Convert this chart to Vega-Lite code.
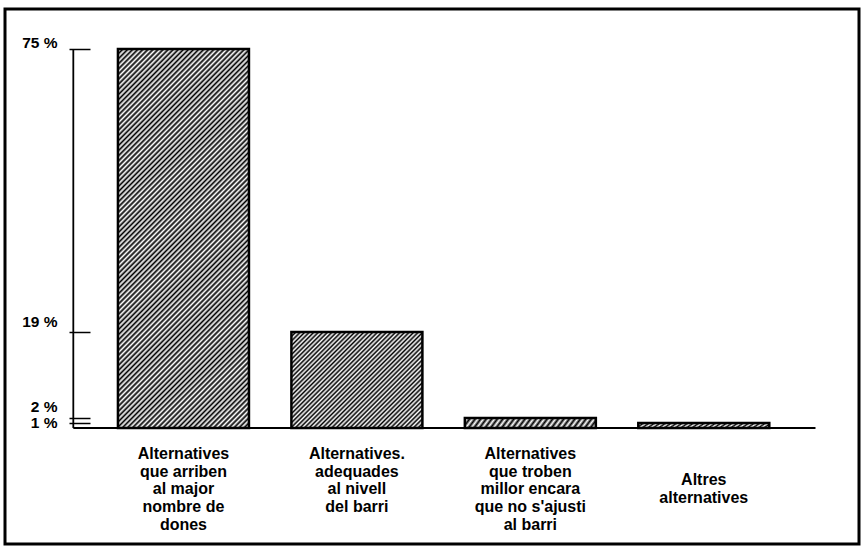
{
  "$schema": "https://vega.github.io/schema/vega-lite/v6.json",
  "width": 854,
  "height": 535,
  "autosize": "none",
  "padding": {"left": 5, "top": 9, "right": 3, "bottom": 5},
  "background": "white",
  "config": {"view": {"stroke": "black", "strokeWidth": 3}, "font": "Liberation Sans"},
  "data": {"values": [
    {"pos": 1, "value": 75, "label": "Alternatives\nque arriben\nal major\nnombre de\ndones"},
    {"pos": 2, "value": 19, "label": "Alternatives.\nadequades\nal nivell\ndel barri"},
    {"pos": 3, "value": 2, "label": "Alternatives\nque troben\nmillor encara\nque no s'ajusti\nal barri"},
    {"pos": 4, "value": 1, "label": "Altres\nalternatives"}
  ]},
  "layer": [
    {
      "data": {"values": [{"k": "axis"}]},
      "mark": {"type": "rule", "color": "black", "strokeWidth": 1.8},
      "encoding": {
        "x": {"datum": 0.365, "type": "quantitative", "scale": {"domain": [0, 4.866], "nice": false, "zero": false}, "axis": null},
        "y": {"datum": 0, "type": "quantitative", "scale": {"domain": [-22.955, 82.916], "nice": false, "zero": false}},
        "y2": {"datum": 75}
      }
    },
    {
      "data": {"values": [{"k": "base"}]},
      "mark": {"type": "rule", "color": "black", "strokeWidth": 1.8},
      "encoding": {
        "x": {"datum": 0.365, "type": "quantitative"},
        "x2": {"datum": 4.644},
        "y": {"datum": 0, "type": "quantitative"}
      }
    },
    {
      "mark": {"type": "bar", "orient": "vertical", "size": 131, "stroke": "black", "strokeWidth": 2.5},
      "encoding": {
        "x": {"field": "pos", "type": "quantitative"},
        "y": {"field": "value", "type": "quantitative",
          "axis": {"values": [1, 2, 19, 75], "domain": false, "grid": false, "title": null, "offset": -64,
            "tickSize": -21, "tickWidth": 1.5, "tickColor": "black", "labelPadding": 33,
            "labelExpr": "datum.value + ' %'", "labelFont": "Liberation Sans", "labelFontWeight": "bold", "labelFontSize": 15.5, "labelColor": "black",
            "labelBaseline": "alphabetic",
            "labelOffset": {"condition": [{"test": "datum.value == 1", "value": 5}, {"test": "datum.value == 2", "value": -6}, {"test": "datum.value == 75", "value": -2}], "value": -5},
            "labelOverlap": false, "labelFlush": false, "labelBound": false}},
        "y2": {"datum": 0},
        "fill": {
          "condition": [
            {"test": "datum.pos == 1", "value": {"gradient": "linear", "x1": 0, "y1": 0, "x2": 0.4188, "y2": 1.2024, "stops": [
{"offset":0,"color":"#000"},{"offset":0.005,"color":"#fff"},{"offset":0.01,"color":"#000"},{"offset":0.015,"color":"#fff"},{"offset":0.02,"color":"#000"},{"offset":0.025,"color":"#fff"},{"offset":0.03,"color":"#000"},{"offset":0.035,"color":"#fff"},{"offset":0.04,"color":"#000"},{"offset":0.045,"color":"#fff"},
{"offset":0.05,"color":"#000"},{"offset":0.055,"color":"#fff"},{"offset":0.06,"color":"#000"},{"offset":0.065,"color":"#fff"},{"offset":0.07,"color":"#000"},{"offset":0.075,"color":"#fff"},{"offset":0.08,"color":"#000"},{"offset":0.085,"color":"#fff"},{"offset":0.09,"color":"#000"},{"offset":0.095,"color":"#fff"},
{"offset":0.1,"color":"#000"},{"offset":0.105,"color":"#fff"},{"offset":0.11,"color":"#000"},{"offset":0.115,"color":"#fff"},{"offset":0.12,"color":"#000"},{"offset":0.125,"color":"#fff"},{"offset":0.13,"color":"#000"},{"offset":0.135,"color":"#fff"},{"offset":0.14,"color":"#000"},{"offset":0.145,"color":"#fff"},
{"offset":0.15,"color":"#000"},{"offset":0.155,"color":"#fff"},{"offset":0.16,"color":"#000"},{"offset":0.165,"color":"#fff"},{"offset":0.17,"color":"#000"},{"offset":0.175,"color":"#fff"},{"offset":0.18,"color":"#000"},{"offset":0.185,"color":"#fff"},{"offset":0.19,"color":"#000"},{"offset":0.195,"color":"#fff"},
{"offset":0.2,"color":"#000"},{"offset":0.205,"color":"#fff"},{"offset":0.21,"color":"#000"},{"offset":0.215,"color":"#fff"},{"offset":0.22,"color":"#000"},{"offset":0.225,"color":"#fff"},{"offset":0.23,"color":"#000"},{"offset":0.235,"color":"#fff"},{"offset":0.24,"color":"#000"},{"offset":0.245,"color":"#fff"},
{"offset":0.25,"color":"#000"},{"offset":0.255,"color":"#fff"},{"offset":0.26,"color":"#000"},{"offset":0.265,"color":"#fff"},{"offset":0.27,"color":"#000"},{"offset":0.275,"color":"#fff"},{"offset":0.28,"color":"#000"},{"offset":0.285,"color":"#fff"},{"offset":0.29,"color":"#000"},{"offset":0.295,"color":"#fff"},
{"offset":0.3,"color":"#000"},{"offset":0.305,"color":"#fff"},{"offset":0.31,"color":"#000"},{"offset":0.315,"color":"#fff"},{"offset":0.32,"color":"#000"},{"offset":0.325,"color":"#fff"},{"offset":0.33,"color":"#000"},{"offset":0.335,"color":"#fff"},{"offset":0.34,"color":"#000"},{"offset":0.345,"color":"#fff"},
{"offset":0.35,"color":"#000"},{"offset":0.355,"color":"#fff"},{"offset":0.36,"color":"#000"},{"offset":0.365,"color":"#fff"},{"offset":0.37,"color":"#000"},{"offset":0.375,"color":"#fff"},{"offset":0.38,"color":"#000"},{"offset":0.385,"color":"#fff"},{"offset":0.39,"color":"#000"},{"offset":0.395,"color":"#fff"},
{"offset":0.4,"color":"#000"},{"offset":0.405,"color":"#fff"},{"offset":0.41,"color":"#000"},{"offset":0.415,"color":"#fff"},{"offset":0.42,"color":"#000"},{"offset":0.425,"color":"#fff"},{"offset":0.43,"color":"#000"},{"offset":0.435,"color":"#fff"},{"offset":0.44,"color":"#000"},{"offset":0.445,"color":"#fff"},
{"offset":0.45,"color":"#000"},{"offset":0.455,"color":"#fff"},{"offset":0.46,"color":"#000"},{"offset":0.465,"color":"#fff"},{"offset":0.47,"color":"#000"},{"offset":0.475,"color":"#fff"},{"offset":0.48,"color":"#000"},{"offset":0.485,"color":"#fff"},{"offset":0.49,"color":"#000"},{"offset":0.495,"color":"#fff"},
{"offset":0.5,"color":"#000"},{"offset":0.505,"color":"#fff"},{"offset":0.51,"color":"#000"},{"offset":0.515,"color":"#fff"},{"offset":0.52,"color":"#000"},{"offset":0.525,"color":"#fff"},{"offset":0.53,"color":"#000"},{"offset":0.535,"color":"#fff"},{"offset":0.54,"color":"#000"},{"offset":0.545,"color":"#fff"},
{"offset":0.55,"color":"#000"},{"offset":0.555,"color":"#fff"},{"offset":0.56,"color":"#000"},{"offset":0.565,"color":"#fff"},{"offset":0.57,"color":"#000"},{"offset":0.575,"color":"#fff"},{"offset":0.58,"color":"#000"},{"offset":0.585,"color":"#fff"},{"offset":0.59,"color":"#000"},{"offset":0.595,"color":"#fff"},
{"offset":0.6,"color":"#000"},{"offset":0.605,"color":"#fff"},{"offset":0.61,"color":"#000"},{"offset":0.615,"color":"#fff"},{"offset":0.62,"color":"#000"},{"offset":0.625,"color":"#fff"},{"offset":0.63,"color":"#000"},{"offset":0.635,"color":"#fff"},{"offset":0.64,"color":"#000"},{"offset":0.645,"color":"#fff"},
{"offset":0.65,"color":"#000"},{"offset":0.655,"color":"#fff"},{"offset":0.66,"color":"#000"},{"offset":0.665,"color":"#fff"},{"offset":0.67,"color":"#000"},{"offset":0.675,"color":"#fff"},{"offset":0.68,"color":"#000"},{"offset":0.685,"color":"#fff"},{"offset":0.69,"color":"#000"},{"offset":0.695,"color":"#fff"},
{"offset":0.7,"color":"#000"},{"offset":0.705,"color":"#fff"},{"offset":0.71,"color":"#000"},{"offset":0.715,"color":"#fff"},{"offset":0.72,"color":"#000"},{"offset":0.725,"color":"#fff"},{"offset":0.73,"color":"#000"},{"offset":0.735,"color":"#fff"},{"offset":0.74,"color":"#000"},{"offset":0.745,"color":"#fff"},
{"offset":0.75,"color":"#000"},{"offset":0.755,"color":"#fff"},{"offset":0.76,"color":"#000"},{"offset":0.765,"color":"#fff"},{"offset":0.77,"color":"#000"},{"offset":0.775,"color":"#fff"},{"offset":0.78,"color":"#000"},{"offset":0.785,"color":"#fff"},{"offset":0.79,"color":"#000"},{"offset":0.795,"color":"#fff"},
{"offset":0.8,"color":"#000"},{"offset":0.805,"color":"#fff"},{"offset":0.81,"color":"#000"},{"offset":0.815,"color":"#fff"},{"offset":0.82,"color":"#000"},{"offset":0.825,"color":"#fff"},{"offset":0.83,"color":"#000"},{"offset":0.835,"color":"#fff"},{"offset":0.84,"color":"#000"},{"offset":0.845,"color":"#fff"},
{"offset":0.85,"color":"#000"},{"offset":0.855,"color":"#fff"},{"offset":0.86,"color":"#000"},{"offset":0.865,"color":"#fff"},{"offset":0.87,"color":"#000"},{"offset":0.875,"color":"#fff"},{"offset":0.88,"color":"#000"},{"offset":0.885,"color":"#fff"},{"offset":0.89,"color":"#000"},{"offset":0.895,"color":"#fff"},
{"offset":0.9,"color":"#000"},{"offset":0.905,"color":"#fff"},{"offset":0.91,"color":"#000"},{"offset":0.915,"color":"#fff"},{"offset":0.92,"color":"#000"},{"offset":0.925,"color":"#fff"},{"offset":0.93,"color":"#000"},{"offset":0.935,"color":"#fff"},{"offset":0.94,"color":"#000"},{"offset":0.945,"color":"#fff"},
{"offset":0.95,"color":"#000"},{"offset":0.955,"color":"#fff"},{"offset":0.96,"color":"#000"},{"offset":0.965,"color":"#fff"},{"offset":0.97,"color":"#000"},{"offset":0.975,"color":"#fff"},{"offset":0.98,"color":"#000"},{"offset":0.985,"color":"#fff"},{"offset":0.99,"color":"#000"},{"offset":0.995,"color":"#fff"},
{"offset":1,"color":"#000"}
            ]}},
            {"test": "datum.pos == 2", "value": {"gradient": "linear", "x1": 0, "y1": 0, "x2": 1.1274, "y2": 0.8262, "stops": [
{"offset":0,"color":"#000"},{"offset":0.01,"color":"#fff"},{"offset":0.02,"color":"#000"},{"offset":0.03,"color":"#fff"},{"offset":0.04,"color":"#000"},{"offset":0.05,"color":"#fff"},{"offset":0.06,"color":"#000"},{"offset":0.07,"color":"#fff"},{"offset":0.08,"color":"#000"},{"offset":0.09,"color":"#fff"},
{"offset":0.1,"color":"#000"},{"offset":0.11,"color":"#fff"},{"offset":0.12,"color":"#000"},{"offset":0.13,"color":"#fff"},{"offset":0.14,"color":"#000"},{"offset":0.15,"color":"#fff"},{"offset":0.16,"color":"#000"},{"offset":0.17,"color":"#fff"},{"offset":0.18,"color":"#000"},{"offset":0.19,"color":"#fff"},
{"offset":0.2,"color":"#000"},{"offset":0.21,"color":"#fff"},{"offset":0.22,"color":"#000"},{"offset":0.23,"color":"#fff"},{"offset":0.24,"color":"#000"},{"offset":0.25,"color":"#fff"},{"offset":0.26,"color":"#000"},{"offset":0.27,"color":"#fff"},{"offset":0.28,"color":"#000"},{"offset":0.29,"color":"#fff"},
{"offset":0.3,"color":"#000"},{"offset":0.31,"color":"#fff"},{"offset":0.32,"color":"#000"},{"offset":0.33,"color":"#fff"},{"offset":0.34,"color":"#000"},{"offset":0.35,"color":"#fff"},{"offset":0.36,"color":"#000"},{"offset":0.37,"color":"#fff"},{"offset":0.38,"color":"#000"},{"offset":0.39,"color":"#fff"},
{"offset":0.4,"color":"#000"},{"offset":0.41,"color":"#fff"},{"offset":0.42,"color":"#000"},{"offset":0.43,"color":"#fff"},{"offset":0.44,"color":"#000"},{"offset":0.45,"color":"#fff"},{"offset":0.46,"color":"#000"},{"offset":0.47,"color":"#fff"},{"offset":0.48,"color":"#000"},{"offset":0.49,"color":"#fff"},
{"offset":0.5,"color":"#000"},{"offset":0.51,"color":"#fff"},{"offset":0.52,"color":"#000"},{"offset":0.53,"color":"#fff"},{"offset":0.54,"color":"#000"},{"offset":0.55,"color":"#fff"},{"offset":0.56,"color":"#000"},{"offset":0.57,"color":"#fff"},{"offset":0.58,"color":"#000"},{"offset":0.59,"color":"#fff"},
{"offset":0.6,"color":"#000"},{"offset":0.61,"color":"#fff"},{"offset":0.62,"color":"#000"},{"offset":0.63,"color":"#fff"},{"offset":0.64,"color":"#000"},{"offset":0.65,"color":"#fff"},{"offset":0.66,"color":"#000"},{"offset":0.67,"color":"#fff"},{"offset":0.68,"color":"#000"},{"offset":0.69,"color":"#fff"},
{"offset":0.7,"color":"#000"},{"offset":0.71,"color":"#fff"},{"offset":0.72,"color":"#000"},{"offset":0.73,"color":"#fff"},{"offset":0.74,"color":"#000"},{"offset":0.75,"color":"#fff"},{"offset":0.76,"color":"#000"},{"offset":0.77,"color":"#fff"},{"offset":0.78,"color":"#000"},{"offset":0.79,"color":"#fff"},
{"offset":0.8,"color":"#000"},{"offset":0.81,"color":"#fff"},{"offset":0.82,"color":"#000"},{"offset":0.83,"color":"#fff"},{"offset":0.84,"color":"#000"},{"offset":0.85,"color":"#fff"},{"offset":0.86,"color":"#000"},{"offset":0.87,"color":"#fff"},{"offset":0.88,"color":"#000"},{"offset":0.89,"color":"#fff"},
{"offset":0.9,"color":"#000"},{"offset":0.91,"color":"#fff"},{"offset":0.92,"color":"#000"},{"offset":0.93,"color":"#fff"},{"offset":0.94,"color":"#000"},{"offset":0.95,"color":"#fff"},{"offset":0.96,"color":"#000"},{"offset":0.97,"color":"#fff"},{"offset":0.98,"color":"#000"},{"offset":0.99,"color":"#fff"},
{"offset":1,"color":"#000"}
            ]}}
          ],
          "value": {"gradient": "linear", "x1": 0, "y1": 0, "x2": 1.0538, "y2": 0.0604, "stops": [
{"offset":0,"color":"#000"},{"offset":0.02,"color":"#fff"},{"offset":0.04,"color":"#000"},{"offset":0.06,"color":"#fff"},{"offset":0.08,"color":"#000"},{"offset":0.1,"color":"#fff"},{"offset":0.12,"color":"#000"},{"offset":0.14,"color":"#fff"},{"offset":0.16,"color":"#000"},{"offset":0.18,"color":"#fff"},
{"offset":0.2,"color":"#000"},{"offset":0.22,"color":"#fff"},{"offset":0.24,"color":"#000"},{"offset":0.26,"color":"#fff"},{"offset":0.28,"color":"#000"},{"offset":0.3,"color":"#fff"},{"offset":0.32,"color":"#000"},{"offset":0.34,"color":"#fff"},{"offset":0.36,"color":"#000"},{"offset":0.38,"color":"#fff"},
{"offset":0.4,"color":"#000"},{"offset":0.42,"color":"#fff"},{"offset":0.44,"color":"#000"},{"offset":0.46,"color":"#fff"},{"offset":0.48,"color":"#000"},{"offset":0.5,"color":"#fff"},{"offset":0.52,"color":"#000"},{"offset":0.54,"color":"#fff"},{"offset":0.56,"color":"#000"},{"offset":0.58,"color":"#fff"},
{"offset":0.6,"color":"#000"},{"offset":0.62,"color":"#fff"},{"offset":0.64,"color":"#000"},{"offset":0.66,"color":"#fff"},{"offset":0.68,"color":"#000"},{"offset":0.7,"color":"#fff"},{"offset":0.72,"color":"#000"},{"offset":0.74,"color":"#fff"},{"offset":0.76,"color":"#000"},{"offset":0.78,"color":"#fff"},
{"offset":0.8,"color":"#000"},{"offset":0.82,"color":"#fff"},{"offset":0.84,"color":"#000"},{"offset":0.86,"color":"#fff"},{"offset":0.88,"color":"#000"},{"offset":0.9,"color":"#fff"},{"offset":0.92,"color":"#000"},{"offset":0.94,"color":"#fff"},{"offset":0.96,"color":"#000"},{"offset":0.98,"color":"#fff"},
{"offset":1,"color":"#000"}
          ]}
        }
      }
    },
    {
      "transform": [{"filter": "datum.pos < 4"}],
      "mark": {"type": "text", "align": "center", "baseline": "top", "dy": 18, "font": "Liberation Sans", "fontWeight": "bold", "fontSize": 16, "lineHeight": 17.7, "lineBreak": "\n", "color": "black"},
      "encoding": {
        "x": {"field": "pos", "type": "quantitative"},
        "y": {"datum": 0, "type": "quantitative"},
        "text": {"field": "label"}
      }
    },
    {
      "transform": [{"filter": "datum.pos == 4"}],
      "mark": {"type": "text", "align": "center", "baseline": "top", "dy": 44, "font": "Liberation Sans", "fontWeight": "bold", "fontSize": 16, "lineHeight": 17.7, "lineBreak": "\n", "color": "black"},
      "encoding": {
        "x": {"field": "pos", "type": "quantitative"},
        "y": {"datum": 0, "type": "quantitative"},
        "text": {"field": "label"}
      }
    }
  ]
}
